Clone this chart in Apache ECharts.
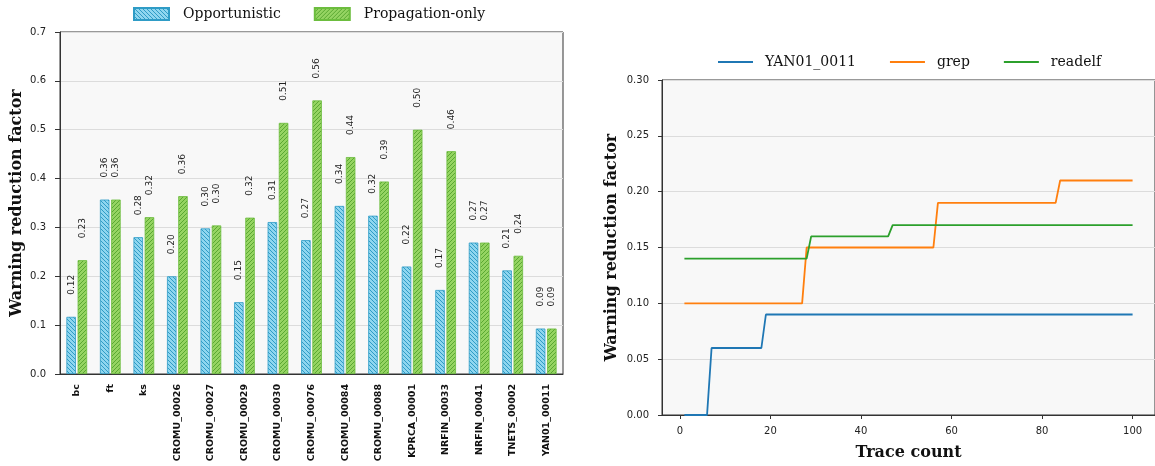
<!DOCTYPE html>
<html><head><meta charset="utf-8">
<script src="https://cdn.jsdelivr.net/npm/echarts@6/dist/echarts.min.js"></script>
<style>html,body{margin:0;padding:0;background:#fff}#c{width:1155px;height:466px}</style>
</head><body><div id="c"></div>
<script>
// ---------- data ----------
const categories = ['bc','ft','ks','CROMU_00026','CROMU_00027','CROMU_00029','CROMU_00030','CROMU_00076','CROMU_00084','CROMU_00088','KPRCA_00001','NRFIN_00033','NRFIN_00041','TNETS_00002','YAN01_00011'];
const opportunistic   = [0.117,0.357,0.280,0.200,0.298,0.147,0.311,0.274,0.344,0.324,0.220,0.172,0.269,0.212,0.093];
const propagationOnly = [0.233,0.357,0.321,0.364,0.304,0.320,0.514,0.560,0.444,0.394,0.500,0.456,0.269,0.242,0.093];
const barSeriesNames = ['Opportunistic','Propagation-only'];

// trace-count curves: [trace count, warning reduction factor] at each change point
const yan01_0011 = [[1,0.00],[6,0.00],[7,0.06],[18,0.06],[19,0.09],[100,0.09]];
const grep       = [[1,0.10],[27,0.10],[28,0.15],[56,0.15],[57,0.19],[83,0.19],[84,0.21],[100,0.21]];
const readelf    = [[1,0.14],[28,0.14],[29,0.16],[46,0.16],[47,0.17],[100,0.17]];
const lineSeriesNames = ['YAN01_0011','grep','readelf'];
const traceTicks = [0,20,40,60,80,100];

// ---------- styles ----------
function hatch(bg, fg, dir) {
  const s = 4, c = document.createElement('canvas');
  c.width = s; c.height = s;
  const g = c.getContext('2d');
  g.fillStyle = bg; g.fillRect(0, 0, s, s);
  g.strokeStyle = fg; g.lineWidth = 1;
  for (const k of [-s, 0, s]) {
    g.beginPath();
    if (dir > 0) { g.moveTo(k, s); g.lineTo(k + s, 0); }
    else { g.moveTo(k, 0); g.lineTo(k + s, s); }
    g.stroke();
  }
  return { image: c, repeat: 'repeat' };
}
const blueFill = hatch('#8fd6ef', '#2f9cc6', -1);
const greenFill = hatch('#95d462', '#5aa832', 1);

const spine = '#333';
const serif = 'DejaVu Serif';
const sans = 'DejaVu Sans';
const valueLabel = {
  show: true, position: 'top', rotate: 90, align: 'left', verticalAlign: 'middle',
  distance: 22, fontSize: 9, fontFamily: sans, color: '#222',
  formatter: p => p.value.toFixed(2)
};

const chart = echarts.init(document.getElementById('c'), null, { renderer: 'canvas' });
chart.setOption({
  animation: false,
  backgroundColor: '#fff',
  legend: [
    { data: barSeriesNames, left: 128, top: 2, icon: 'rect', itemWidth: 35, itemHeight: 12, itemGap: 33,
      textStyle: { fontFamily: serif, fontSize: 14, color: '#111', padding: [0, 0, 0, 9] } },
    { data: lineSeriesNames, left: 713, top: 50, icon: 'rect', itemWidth: 35, itemHeight: 2, itemGap: 34,
      textStyle: { fontFamily: serif, fontSize: 14, color: '#111', padding: [0, 0, 0, 7] } }
  ],
  grid: [
    { left: 60, top: 32, width: 503, height: 342, show: true, backgroundColor: '#f8f8f8', borderColor: spine, borderWidth: 1, containLabel: false },
    { left: 662, top: 80, width: 497, height: 339, show: true, backgroundColor: '#f8f8f8', borderColor: spine, borderWidth: 1, containLabel: false }
  ],
  xAxis: [
    { type: 'category', gridIndex: 0, data: categories,
      axisLine: { lineStyle: { color: spine } }, axisTick: { show: false },
      axisLabel: { rotate: 90, margin: 10, fontSize: 9.5, fontWeight: 'bold', fontFamily: sans, color: '#111' } },
    { type: 'value', gridIndex: 1, min: -3.95, max: 104.95,
      name: 'Trace count', nameLocation: 'middle', nameGap: 30,
      nameTextStyle: { fontFamily: serif, fontWeight: 'bold', fontSize: 16, color: '#111' },
      axisLine: { onZero: false, lineStyle: { color: spine } },
      axisTick: { show: true, length: 4, customValues: traceTicks, lineStyle: { color: spine } },
      axisLabel: { customValues: traceTicks, margin: 11, fontSize: 10, fontFamily: sans, color: '#222' },
      splitLine: { show: false } }
  ],
  yAxis: [
    { type: 'value', gridIndex: 0, min: 0, max: 0.7, interval: 0.1,
      name: 'Warning reduction factor', nameLocation: 'middle', nameGap: 35,
      nameTextStyle: { fontFamily: serif, fontWeight: 'bold', fontSize: 16, color: '#111' },
      axisLine: { show: true, onZero: false, lineStyle: { color: spine } },
      axisTick: { show: true, length: 5, lineStyle: { color: spine } },
      axisLabel: { margin: 14, fontSize: 10, fontFamily: sans, color: '#222', formatter: v => v.toFixed(1) },
      splitLine: { lineStyle: { color: '#dcdcdc' } } },
    { type: 'value', gridIndex: 1, min: 0, max: 0.30, interval: 0.05,
      name: 'Warning reduction factor', nameLocation: 'middle', nameGap: 42,
      nameTextStyle: { fontFamily: serif, fontWeight: 'bold', fontSize: 16, color: '#111' },
      axisLine: { show: true, onZero: false, lineStyle: { color: spine } },
      axisTick: { show: true, length: 4, lineStyle: { color: spine } },
      axisLabel: { margin: 13, fontSize: 10, fontFamily: sans, color: '#222', formatter: v => v.toFixed(2) },
      splitLine: { lineStyle: { color: '#dcdcdc' } } }
  ],
  series: [
    { name: barSeriesNames[0], type: 'bar', xAxisIndex: 0, yAxisIndex: 0, data: opportunistic,
      barWidth: 9.5, barGap: '18%',
      itemStyle: { color: blueFill, borderColor: '#2f9cc6', borderWidth: 0.8 }, label: valueLabel },
    { name: barSeriesNames[1], type: 'bar', xAxisIndex: 0, yAxisIndex: 0, data: propagationOnly,
      barWidth: 9.5, barGap: '18%',
      itemStyle: { color: greenFill, borderColor: '#6cbd3e', borderWidth: 0.8 }, label: valueLabel },
    { name: lineSeriesNames[0], type: 'line', xAxisIndex: 1, yAxisIndex: 1, data: yan01_0011,
      symbol: 'none', lineStyle: { color: '#1f77b4', width: 1.8 }, itemStyle: { color: '#1f77b4' } },
    { name: lineSeriesNames[1], type: 'line', xAxisIndex: 1, yAxisIndex: 1, data: grep,
      symbol: 'none', lineStyle: { color: '#ff7f0e', width: 1.8 }, itemStyle: { color: '#ff7f0e' } },
    { name: lineSeriesNames[2], type: 'line', xAxisIndex: 1, yAxisIndex: 1, data: readelf,
      symbol: 'none', lineStyle: { color: '#2ca02c', width: 1.8 }, itemStyle: { color: '#2ca02c' } }
  ]
});
</script></body></html>
